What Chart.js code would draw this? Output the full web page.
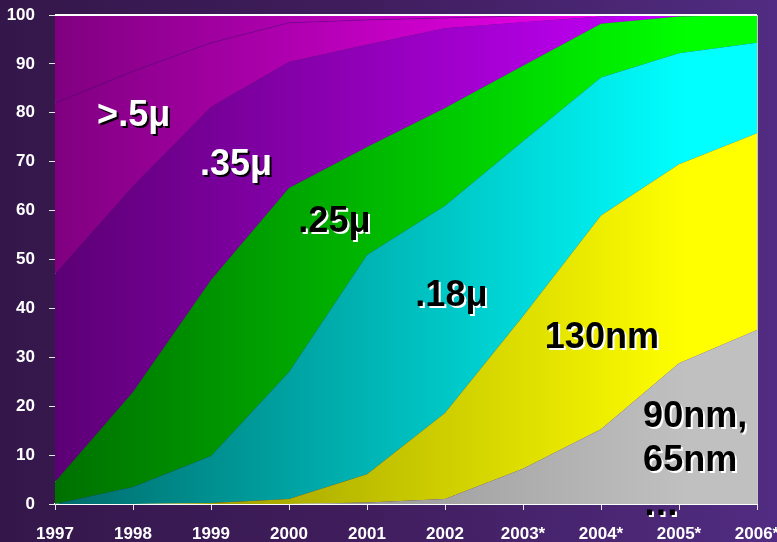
<!DOCTYPE html>
<html>
<head>
<meta charset="utf-8">
<script src="https://cdn.jsdelivr.net/npm/chart.js@4/dist/chart.umd.min.js"></script>
<style>
  html, body { margin: 0; padding: 0; }
  body {
    width: 777px;
    height: 542px;
    overflow: hidden;
    background: linear-gradient(to right, #34174a 0%, #3f1d5c 45%, #512c82 100%);
  }
  #wrap { width: 777px; height: 542px; }
</style>
</head>
<body>
<div id="wrap"><canvas id="chart" width="777" height="542"></canvas></div>
<script>
// process nodes share of wafer starts, percent per year (bottom to top)
const years = ["1997", "1998", "1999", "2000", "2001", "2002", "2003*", "2004*", "2005*", "2006*"];
const nm90_65 = [0, 0, 0, 0, 0.3, 1, 7.2, 15.3, 28.8, 35.6];
const nm130 = [0, 0, 0.2, 1, 5.8, 17.6, 31.2, 43.7, 40.7, 40.2];
const um18 = [0, 3.5, 9.6, 26, 44.8, 42.4, 35.8, 28.2, 22.7, 18.5];
const um25 = [4.5, 19.4, 36, 37.6, 22.1, 20, 15.4, 11, 7.5, 5.7];
const um35 = [42.5, 42.1, 35.4, 25.8, 20.9, 16.3, 8.9, 1.5, 0.3, 0];
const um5 = [35, 23.5, 13.1, 8, 5.1, 2.1, 1.3, 0.3, 0, 0];
const um5older = [18, 11.5, 5.7, 1.6, 1, 0.6, 0.2, 0, 0, 0];
const yTicks = [0, 10, 20, 30, 40, 50, 60, 70, 80, 90, 100];

const FONT = "'Liberation Sans', Arial, sans-serif";

// horizontal shading: dark on the left, full colour towards the right
function shade(rgb, startFrac) {
  return (context) => {
    const { ctx, chartArea } = context.chart;
    if (!chartArea) return "rgb(" + rgb.join(",") + ")";
    const g = ctx.createLinearGradient(chartArea.left, 0, chartArea.right, 0);
    const dark = rgb.map((c) => Math.round(c * startFrac));
    g.addColorStop(0, "rgb(" + dark.join(",") + ")");
    g.addColorStop(0.9, "rgb(" + rgb.join(",") + ")");
    g.addColorStop(1, "rgb(" + rgb.join(",") + ")");
    return g;
  };
}

function area(label, data, rgb, startFrac, fill) {
  return {
    label: label,
    data: data,
    fill: fill,
    backgroundColor: shade(rgb, startFrac),
    borderColor: "transparent",
    borderWidth: 0,
    pointRadius: 0,
    tension: 0,
  };
}

const datasets = [
  area("90nm, 65nm", nm90_65, [192, 192, 192], 0.62, "origin"),
  area("130nm", nm130, [255, 255, 0], 0.5, "-1"),
  area(".18μ", um18, [0, 255, 255], 0.42, "-1"),
  area(".25μ", um25, [0, 255, 0], 0.44, "-1"),
  area(".35μ", um35, [200, 0, 255], 0.46, "-1"),
  area(">.5μ", um5, [255, 0, 255], 0.5, "-1"),
  area(">.5μ older", um5older, [255, 0, 255], 0.5, "-1"),
];
// faint seam between the two >.5μ bands
datasets[5].borderColor = "rgba(70, 0, 120, 0.35)";
datasets[5].borderWidth = 1;

// white top edge and grey right edge of the plot
const frame = {
  id: "frame",
  afterDatasetsDraw(chart) {
    const { ctx, chartArea } = chart;
    ctx.save();
    ctx.strokeStyle = "#ffffff";
    ctx.lineWidth = 2;
    ctx.beginPath();
    ctx.moveTo(chartArea.left, chartArea.top);
    ctx.lineTo(chartArea.right, chartArea.top);
    ctx.stroke();
    ctx.strokeStyle = "#c8c8c8";
    ctx.lineWidth = 1;
    ctx.beginPath();
    ctx.moveTo(chartArea.right + 0.5, chartArea.top);
    ctx.lineTo(chartArea.right + 0.5, chartArea.bottom);
    ctx.stroke();
    ctx.restore();
  },
};

// node names written inside their bands, with drop shadow
const bandNames = [
  { text: [">.5μ"], at: [0.54, 77.3], color: "#ffffff", shadow: "#000000" },
  { text: [".35μ"], at: [1.86, 67.3], color: "#ffffff", shadow: "#000000" },
  { text: [".25μ"], at: [3.12, 55.6], color: "#000000", shadow: "#ffffff" },
  { text: [".18μ"], at: [4.62, 40.5], color: "#000000", shadow: "#ffffff" },
  { text: ["130nm"], at: [6.28, 31.9], color: "#000000", shadow: "#ffffff" },
  { text: ["90nm,", "65nm", "…"], at: [7.54, 15.7], color: "#000000", shadow: "#ffffff" },
];

const names = {
  id: "names",
  afterDraw(chart) {
    const { ctx, scales } = chart;
    const step = scales.x.getPixelForValue(1) - scales.x.getPixelForValue(0);
    ctx.save();
    ctx.font = "bold 36px " + FONT;
    ctx.textAlign = "left";
    ctx.textBaseline = "alphabetic";
    bandNames.forEach((n) => {
      const x = scales.x.getPixelForValue(0) + n.at[0] * step;
      let y = scales.y.getPixelForValue(n.at[1]);
      n.text.forEach((line) => {
        ctx.fillStyle = n.shadow;
        ctx.fillText(line, x + 2, y + 2);
        ctx.fillStyle = n.color;
        ctx.fillText(line, x, y);
        y += 44;
      });
    });
    ctx.restore();
  },
};

const ctx = document.getElementById("chart").getContext("2d");
new Chart(ctx, {
  type: "line",
  data: { labels: years, datasets: datasets },
  options: {
    responsive: false,
    animation: false,
    layout: { padding: { top: 15, right: 20, left: 0, bottom: 0 } },
    plugins: {
      legend: { display: false },
      tooltip: { enabled: false },
    },
    scales: {
      x: {
        type: "category",
        offset: false,
        grid: { drawOnChartArea: false, drawTicks: true, tickLength: 6, color: "#e6e6e6" },
        border: { display: true, color: "#ffffff", width: 2 },
        ticks: {
          color: "#ffffff",
          font: { family: FONT, size: 17, weight: "bold" },
          padding: 14,
          maxRotation: 0,
          autoSkip: false,
        },
        afterFit(scale) {
          scale.height = 38;
          scale.paddingLeft = 0;
          scale.paddingRight = 0;
        },
      },
      y: {
        stacked: true,
        min: 0,
        max: 100,
        grid: { drawOnChartArea: false, drawTicks: true, tickLength: 6, color: "#e6e6e6" },
        border: { display: true, color: "#d8d8d8", width: 1 },
        afterBuildTicks(scale) {
          scale.ticks = yTicks.map((v) => ({ value: v }));
        },
        ticks: {
          color: "#ffffff",
          font: { family: FONT, size: 17, weight: "bold" },
          padding: 14,
        },
        afterFit(scale) {
          scale.width = 55;
          scale.paddingTop = 0;
          scale.paddingBottom = 0;
        },
      },
    },
  },
  plugins: [frame, names],
});
</script>
</body>
</html>
